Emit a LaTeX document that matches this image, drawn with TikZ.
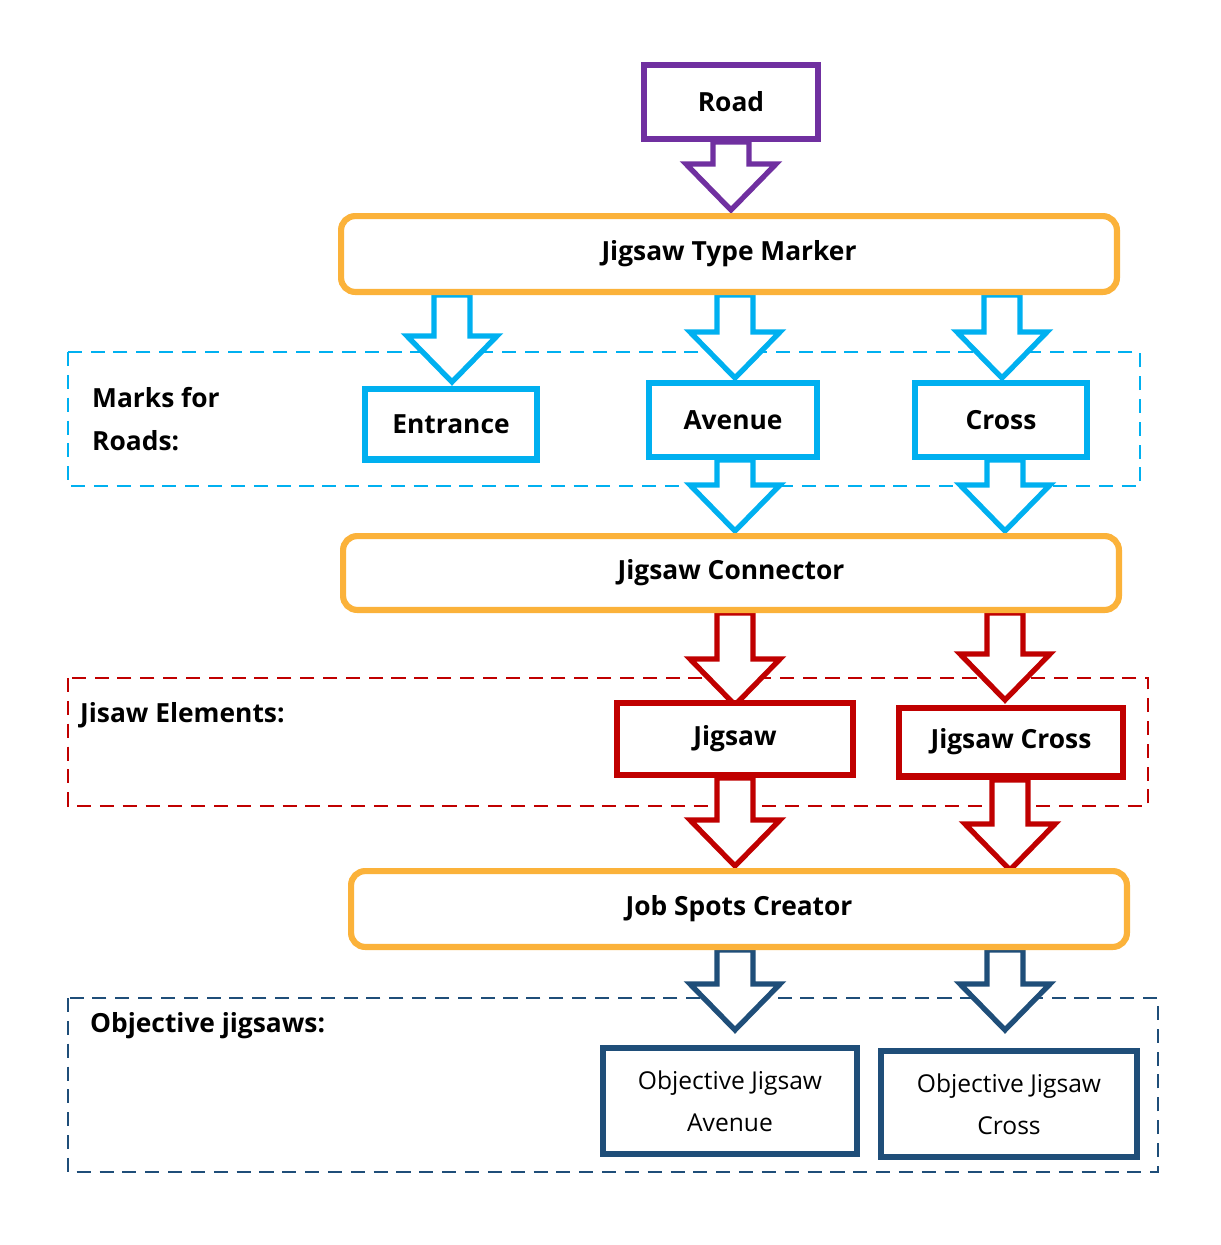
\documentclass[tikz,border=0pt]{standalone}
\usepackage{fontspec}
\setmainfont{Open Sans}
\definecolor{pur}{HTML}{7030A0}
\definecolor{org}{HTML}{FBB23A}
\definecolor{cy}{HTML}{00B0F0}
\definecolor{rd}{HTML}{C00000}
\definecolor{db}{HTML}{1F4E79}
\newcommand{\barrow}[4]{%
\draw[#4,line width=3pt,line join=miter,fill=white] (#1-18,#2) -- (#1+18,#2) -- (#1+18,#3-46) -- (#1+45,#3-46) -- (#1,#3) -- (#1-45,#3-46) -- (#1-18,#3-46) -- cycle;}
\begin{document}
\begin{tikzpicture}[x=0.02cm,y=-0.02cm,
 lbl/.style={font=\fontsize{15}{20}\selectfont\bfseries},
 box/.style={draw,line width=3.5pt,fill=white,lbl},
 rbox/.style={draw=org,line width=3.5pt,rounded corners=8pt,fill=white,lbl},
 dbox/.style={line width=1.6pt,dash pattern=on 8pt off 5pt}]
\useasboundingbox (0,0) rectangle (1221,1245);
% dashed frames
\draw[dbox,cy] (68,352) rectangle (1140,486);
\draw[dbox,rd] (68,678) rectangle (1148,806);
\draw[dbox,db] (68,998) rectangle (1158,1172);
% arrows
\barrow{731}{142}{210}{pur}
\barrow{452}{295}{382}{cy}
\barrow{735}{295}{378}{cy}
\barrow{1002}{295}{378}{cy}
\barrow{735}{460}{531}{cy}
\barrow{1005}{460}{531}{cy}
\barrow{735}{613}{705}{rd}
\barrow{1005}{613}{700}{rd}
\barrow{735}{778}{866}{rd}
\barrow{1010}{780}{870}{rd}
\barrow{735}{950}{1030}{db}
\barrow{1005}{950}{1030}{db}
% nodes
\node[box,draw=pur,minimum width=180*0.02cm-3.5pt,minimum height=80*0.02cm-3.5pt] (road) at (731,102) {Road};
\node[rbox,minimum width=782*0.02cm-3.5pt,minimum height=82*0.02cm-3.5pt] (jtm) at (729,254) {Jigsaw Type Marker};
\node[box,draw=cy,minimum width=178*0.02cm-3.5pt,minimum height=77*0.02cm-3.5pt] (ent) at (451,424) {Entrance};
\node[box,draw=cy,minimum width=174*0.02cm-3.5pt,minimum height=80*0.02cm-3.5pt] (ave) at (733,420) {Avenue};
\node[box,draw=cy,minimum width=178*0.02cm-3.5pt,minimum height=80*0.02cm-3.5pt] (crs) at (1001,420) {Cross};
\node[rbox,minimum width=782*0.02cm-3.5pt,minimum height=80*0.02cm-3.5pt] (jc) at (731,573) {Jigsaw Connector};
\node[box,draw=rd,minimum width=242*0.02cm-3.5pt,minimum height=78*0.02cm-3.5pt] (jig) at (735,739) {Jigsaw};
\node[box,draw=rd,minimum width=230*0.02cm-3.5pt,minimum height=75*0.02cm-3.5pt] (jigc) at (1011,742) {Jigsaw Cross};
\node[rbox,minimum width=782*0.02cm-3.5pt,minimum height=82*0.02cm-3.5pt] (jsc) at (739,909) {Job Spots Creator};
\node[box,draw=db,font=\fontsize{14}{24}\selectfont,align=center,minimum width=260*0.02cm-3.5pt,minimum height=112*0.02cm-3.5pt] (oja) at (730,1101) {Objective Jigsaw\\Avenue};
\node[box,draw=db,font=\fontsize{14}{24}\selectfont,align=center,minimum width=262*0.02cm-3.5pt,minimum height=112*0.02cm-3.5pt] (ojc) at (1009,1104) {Objective Jigsaw\\Cross};
% labels
\node[lbl,anchor=west,align=left,font=\fontsize{15}{24}\selectfont\bfseries] (m) at (86,419) {Marks for\\Roads:};
\node[lbl,anchor=west] (je) at (74,715) {Jisaw Elements:};
\node[lbl,anchor=west] (oj) at (84,1026) {Objective jigsaws:};
\end{tikzpicture}
\end{document}
